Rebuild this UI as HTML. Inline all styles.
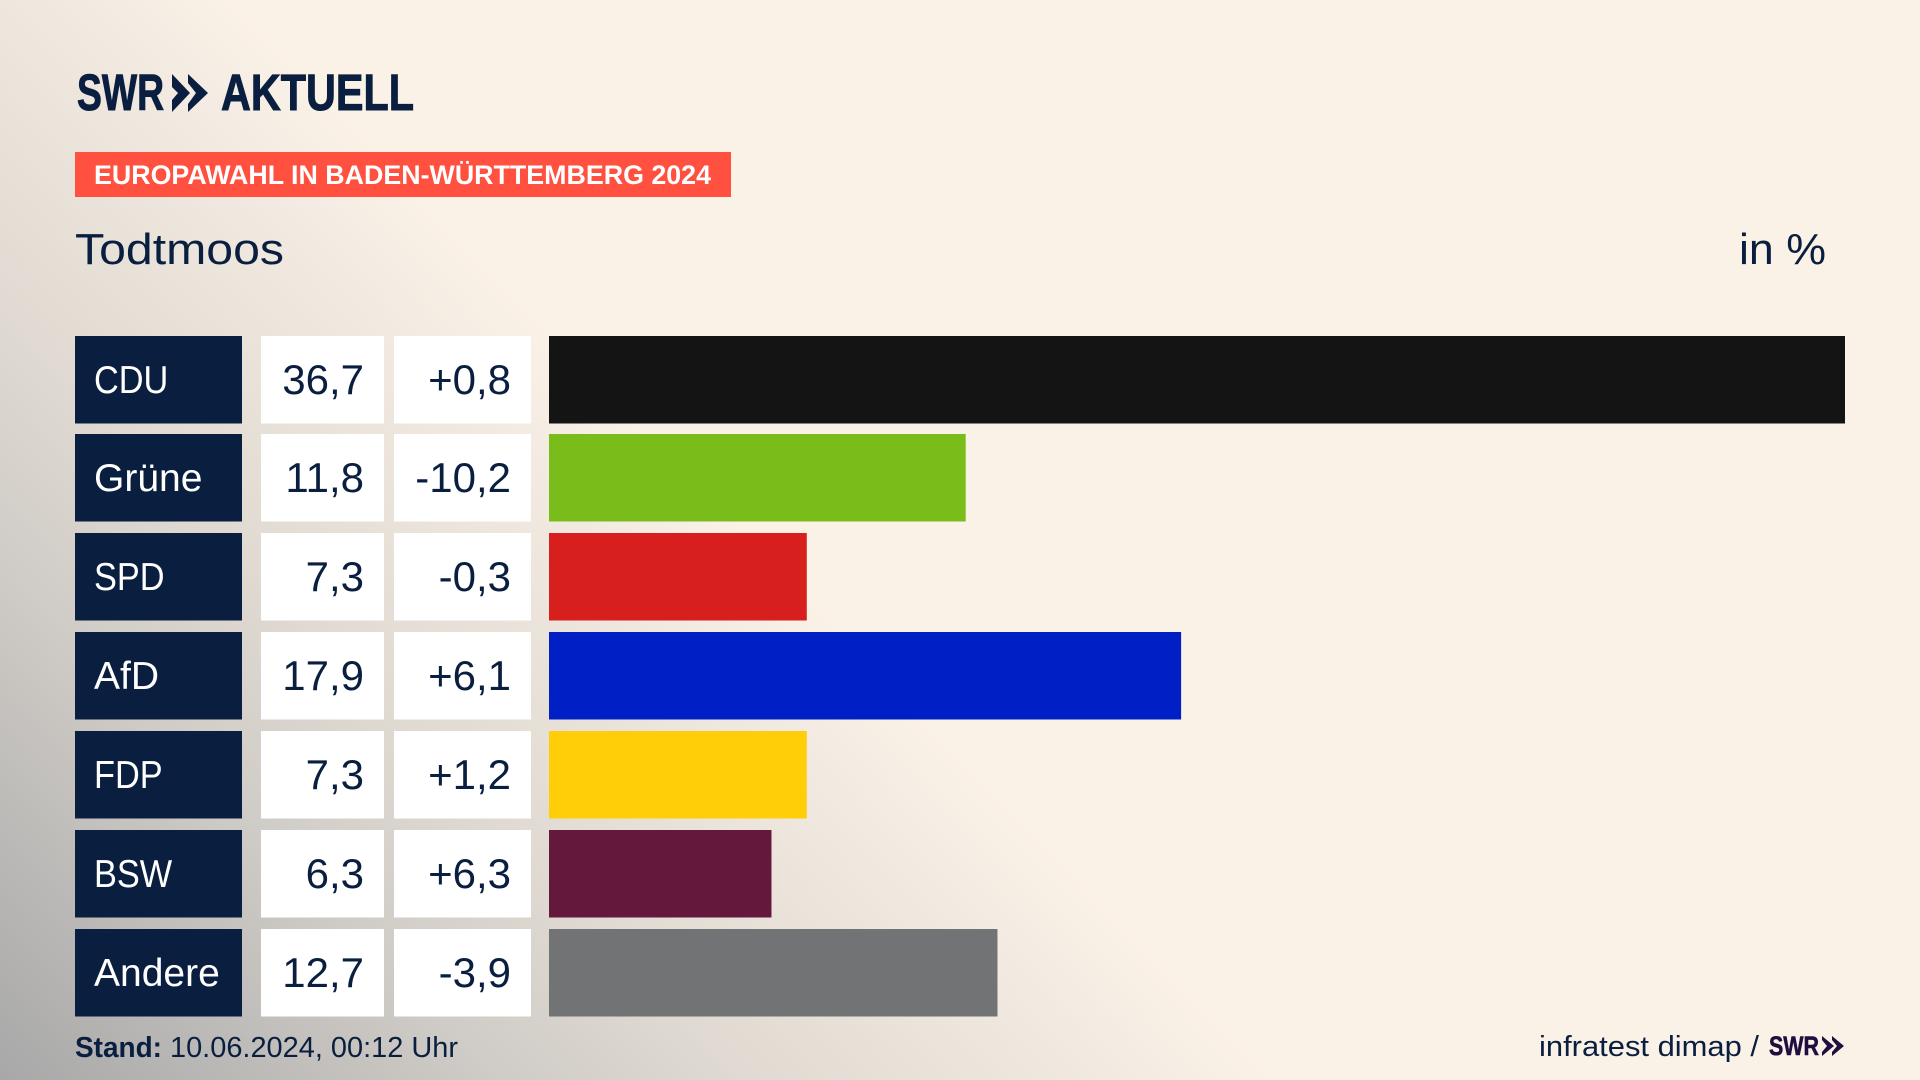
<!DOCTYPE html>
<html lang="de">
<head>
<meta charset="utf-8">
<title>Europawahl in Baden-Württemberg 2024 – Todtmoos</title>
<style>
html,body{margin:0;padding:0;width:1920px;height:1080px;overflow:hidden;background:#FAF1E7}
#stage{position:absolute;left:0;top:0;width:1920px;height:1080px;
background:linear-gradient(226deg,#FAF1E7 0,#FAF1E7 1215px,#E0DAD2 1590px,#CFCBC6 1775px,#A8A8A8 2131px)}
svg{position:absolute;left:0;top:0}
text{font-family:"Liberation Sans",sans-serif;fill:#0A1F3F}
</style>
</head>
<body>
<div id="stage">
<svg id="chart" width="1920" height="1080" viewBox="0 0 1920 1080">
  <g>
    <text x="77" y="110" font-size="51" font-weight="700" stroke="#0A1F3F" stroke-width="1" textLength="87" lengthAdjust="spacingAndGlyphs">SWR</text>
    <polygon points="172,74 190,93 172,112 172,100 178,93 172,87" fill="#0A1F3F"/>
    <polygon points="188,74 208,93 188,112 188,104 196,93 188,83" fill="#0A1F3F"/>
    <text x="221" y="110" font-size="51" font-weight="700" stroke="#0A1F3F" stroke-width="1" textLength="193" lengthAdjust="spacingAndGlyphs">AKTUELL</text>
  </g>
  <rect x="75" y="152" width="656" height="45" fill="#FF5040"/>
  <text x="94" y="184" font-size="27" font-weight="700" style="fill:#fff" textLength="617" lengthAdjust="spacingAndGlyphs">EUROPAWAHL IN BADEN-WÜRTTEMBERG 2024</text>
  <text x="75" y="264" font-size="44" textLength="209" lengthAdjust="spacingAndGlyphs">Todtmoos</text>
  <text x="1739" y="264" font-size="44" textLength="87" lengthAdjust="spacingAndGlyphs">in %</text>
  <g id="rows"></g>
  <text x="75" y="1057" font-size="29" font-weight="700" textLength="87" lengthAdjust="spacingAndGlyphs">Stand:</text>
  <text x="170" y="1057" font-size="29" textLength="288" lengthAdjust="spacingAndGlyphs">10.06.2024, 00:12 Uhr</text>
  <text x="1539" y="1056" font-size="29" textLength="220" lengthAdjust="spacingAndGlyphs">infratest dimap /</text>
  <text x="1769" y="1055" font-size="27" font-weight="700" style="fill:#1F0F40" stroke="#1F0F40" stroke-width=".6" textLength="50" lengthAdjust="spacingAndGlyphs">SWR</text>
  <polygon points="1822,1036 1834,1046 1822,1056 1822,1052 1827,1046 1822,1040" fill="#1F0F40"/>
  <polygon points="1832,1036 1844,1046 1832,1056 1832,1052 1837,1046 1832,1040" fill="#1F0F40"/>
</svg>
</div>
<script>
const parties = ['CDU', 'Grüne', 'SPD', 'AfD', 'FDP', 'BSW', 'Andere'];
const shares = [36.7, 11.8, 7.3, 17.9, 7.3, 6.3, 12.7];
const changes = [0.8, -10.2, -0.3, 6.1, 1.2, 6.3, -3.9];
const partyColors = ['#141414', '#7ABD1A', '#D7201E', '#0020C6', '#FFCE08', '#64183C', '#717375'];

const NS = 'http://www.w3.org/2000/svg';
const rowsGroup = document.getElementById('rows');
const X0 = 549, PX_PER_UNIT = 1296 / 36.7;
const ROW_TOP = 336, ROW_STEP = 98.84, ROW_H = 87.5;
function xScale(v) { return v * PX_PER_UNIT; }
function yScale(i) { return Math.floor(ROW_TOP + i * ROW_STEP); }
function fmt(v) { return v.toFixed(1).replace('.', ','); }
function fmtChange(v) { return (v > 0 ? '+' : '') + fmt(v); }
function make(tag, attrs, parent) {
  const el = document.createElementNS(NS, tag);
  for (const k in attrs) el.setAttribute(k, attrs[k]);
  parent.appendChild(el);
  return el;
}
parties.forEach(function (party, i) {
  const y = yScale(i);
  const key = party.toLowerCase().replace('ü', 'ue');
  const labelScale = party === party.toUpperCase() ? 0.88 : 1;
  const g = make('g', {}, rowsGroup);
  
  

  const nameBox = make('rect', { x: 75, y: y, width: 167, height: ROW_H, fill: '#0A1F3F' }, g);
  
  

  const nameText = make('text', { transform: 'translate(94 ' + (y + 57) + ') scale(' + labelScale + ' 1)', 'font-size': 39, style: 'fill:#fff' }, g);
  nameText.textContent = party;
  
  

  const shareBox = make('rect', { x: 261, y: y, width: 123, height: ROW_H, fill: '#fff' }, g);
  
  

  const shareText = make('text', { x: 364, y: y + 58, 'font-size': 42, 'text-anchor': 'end' }, g);
  shareText.textContent = fmt(shares[i]);
  
  

  const changeBox = make('rect', { x: 394, y: y, width: 137, height: ROW_H, fill: '#fff' }, g);
  
  

  const changeText = make('text', { x: 511, y: y + 58, 'font-size': 42, 'text-anchor': 'end' }, g);
  changeText.textContent = fmtChange(changes[i]);
  
  

  const bar = make('rect', { x: X0, y: y, width: xScale(shares[i]), height: ROW_H, fill: partyColors[i] }, g);
  
  
});
</script>
</body>
</html>
